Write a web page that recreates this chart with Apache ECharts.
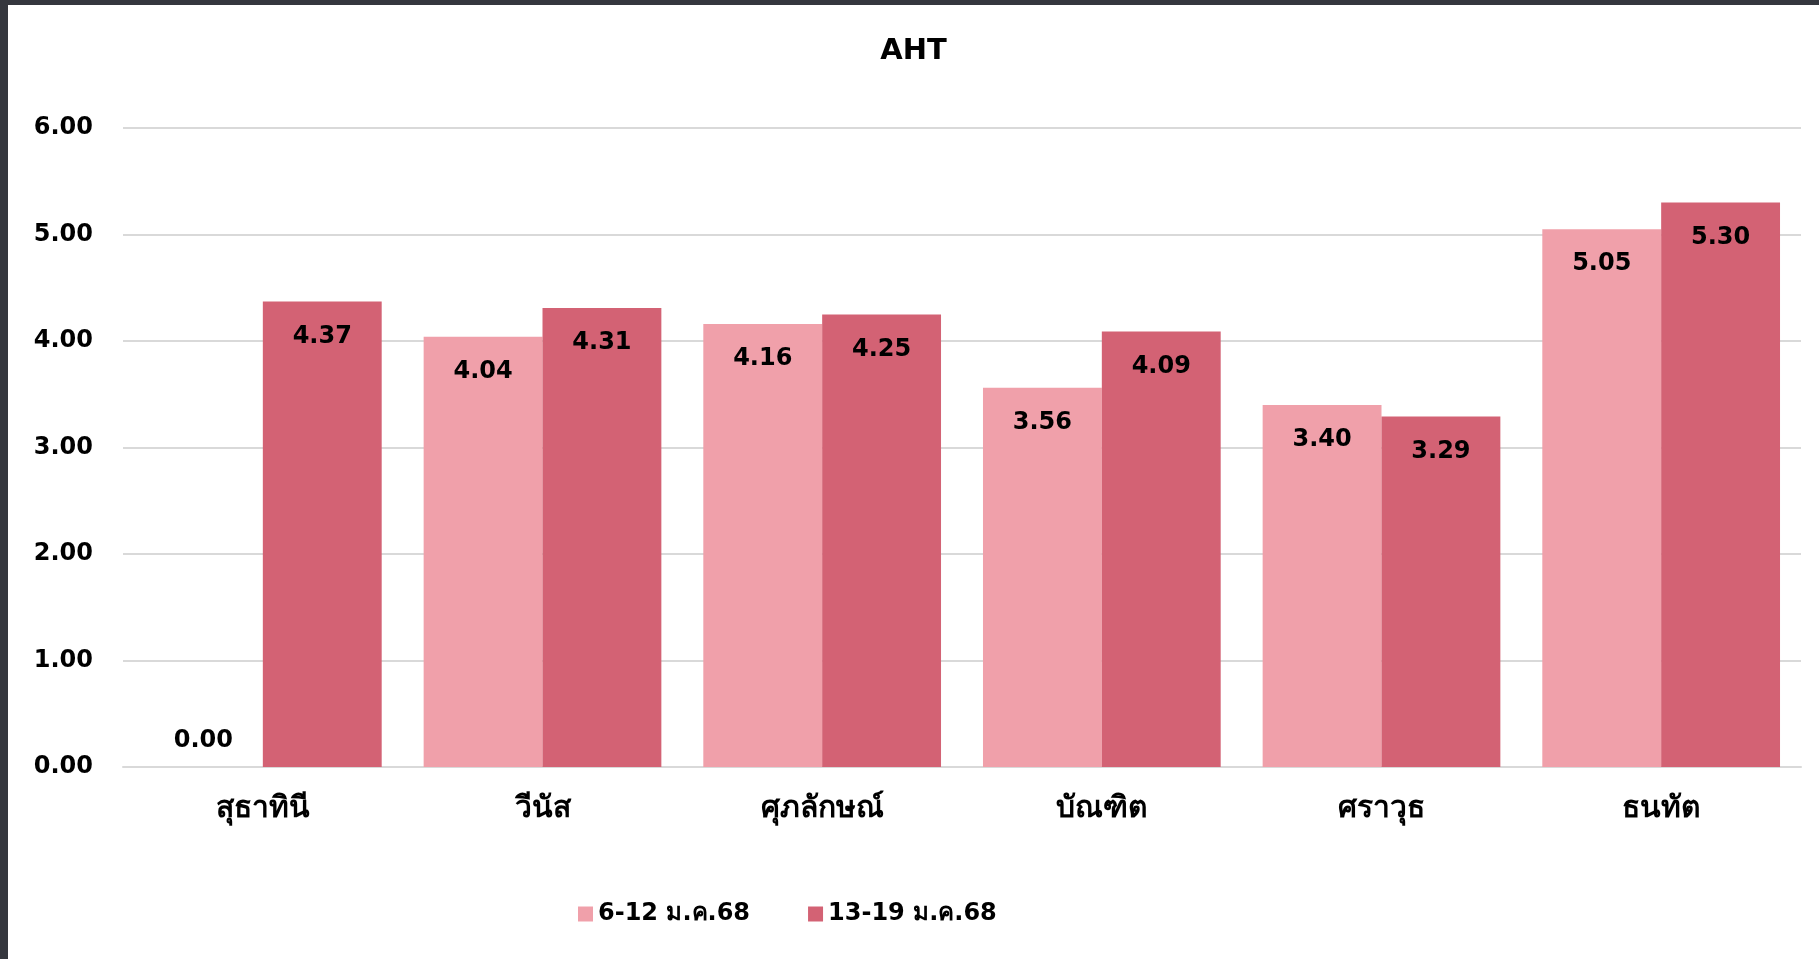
<!DOCTYPE html>
<html>
<head>
<meta charset="utf-8">
<style>
  html, body { margin: 0; padding: 0; width: 1819px; height: 959px; background: #35373e; overflow: hidden; }
  #chart { position: absolute; left: 8px; top: 5px; width: 1811px; height: 954px; background: #ffffff; }
</style>
<script src="https://cdn.jsdelivr.net/npm/echarts@6/dist/echarts.min.js"></script>
</head>
<body>
<div id="chart"></div>
<script>
// data
var categories = ['สุธาทินี', 'วีนัส', 'ศุภลักษณ์', 'บัณฑิต', 'ศราวุธ', 'ธนทัต']
var seriesNames = ['6-12 ม.ค.68', '13-19 ม.ค.68']
var week1 = [0.00, 4.04, 4.16, 3.56, 3.40, 5.05]
var week2 = [4.37, 4.31, 4.25, 4.09, 3.29, 5.30]
var yTicks = [0, 1, 2, 3, 4, 5, 6]

var font = '"DejaVu Sans", "Noto Sans", sans-serif'
var thaiFont = '"Noto Sans", sans-serif'

// zero-height bars get their label above the axis, like the original
function toData(arr) {
  return arr.map(function (v) {
    if (v === 0) {
      return { value: v, label: { position: 'top', distance: 14 } }
    }
    return v
  })
}

function makeSeries(name, values, color) {
  return {
    name: name,
    type: 'bar',
    data: toData(values),
    barGap: '0%',
    barCategoryGap: '15%',
    itemStyle: { color: color },
    label: {
      show: true,
      position: 'insideTop',
      distance: 23,
      color: '#000',
      fontFamily: font,
      fontWeight: 'bold',
      fontSize: 24,
      formatter: function (p) { return Number(p.value).toFixed(2) }
    }
  }
}

var chart = echarts.init(document.getElementById('chart'))
chart.setOption({
  animation: false,
  title: {
    text: 'AHT',
    left: 'center',
    top: 27,
    textStyle: { fontFamily: font, fontWeight: 'bold', fontSize: 29, color: '#000' }
  },
  legend: {
    data: seriesNames,
    left: 565,
    top: 892,
    itemWidth: 15,
    itemHeight: 15,
    itemGap: 58,
    icon: 'rect',
    textStyle: { fontFamily: font, fontWeight: 'bold', fontSize: 24, color: '#000' }
  },
  grid: {
    left: 115,
    right: 18,
    top: 123,
    bottom: 192,
    containLabel: false
  },
  xAxis: {
    type: 'category',
    data: categories,
    axisLine: { lineStyle: { color: '#d9d9d9', width: 2 } },
    axisTick: { show: false },
    axisLabel: {
      margin: 26,
      color: '#000',
      fontFamily: thaiFont,
      fontWeight: 'bold',
      fontSize: 30
    }
  },
  yAxis: {
    type: 'value',
    min: yTicks[0],
    max: yTicks[yTicks.length - 1],
    interval: 1,
    axisLine: { show: false },
    axisTick: { show: false },
    splitLine: { lineStyle: { color: '#d9d9d9', width: 2 } },
    axisLabel: {
      margin: 30,
      color: '#000',
      fontFamily: font,
      fontWeight: 'bold',
      fontSize: 24,
      formatter: function (v) { return v.toFixed(2) }
    }
  },
  series: [
    makeSeries(seriesNames[0], week1, '#f0a0aa'),
    makeSeries(seriesNames[1], week2, '#d36274')
  ]
})
</script>
</body>
</html>
